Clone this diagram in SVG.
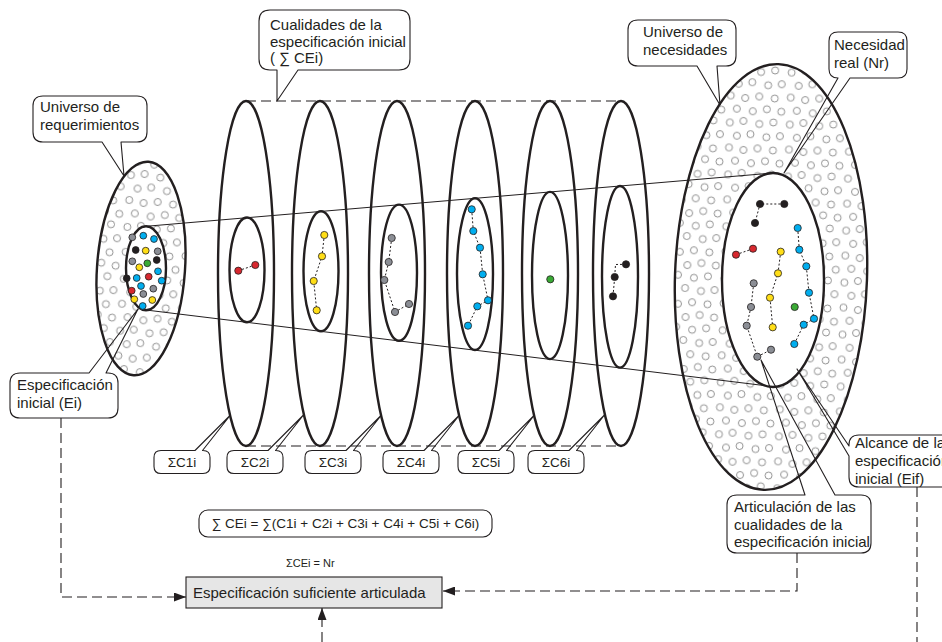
<svg xmlns="http://www.w3.org/2000/svg" width="942" height="642" viewBox="0 0 942 642">
<style>
  .rim{fill:none;stroke:#231f20;stroke-width:2.4}
  .rim-w{fill:#fff;stroke:#231f20;stroke-width:2.4}
  .cone{fill:none;stroke:#231f20;stroke-width:1}
  .guide{fill:none;stroke:#231f20;stroke-width:1.1;stroke-dasharray:10 5}
  .call{fill:none;stroke:#231f20;stroke-width:1.1;stroke-linejoin:round}
  .chain{fill:none;stroke:#231f20;stroke-width:1;stroke-dasharray:2 2}
  .dot{stroke:#231f20;stroke-width:0.8}
  .cy{fill:#00aeef}.ye{fill:#ffde17}.rd{fill:#d7282f}.gr{fill:#3aaa35}.bk{fill:#231f20}.gy{fill:#8b8e95}
  text{font-family:'Liberation Sans',Arial,sans-serif;font-size:15px;fill:#231f20}
  .tag{font-size:13.5px;text-anchor:middle}
  .small{font-size:13.5px}
  .tiny{font-size:11px}
</style>
<defs>
  <!-- scattered hollow circles filling the two universes -->
  <pattern id="holes" width="60" height="52" patternUnits="userSpaceOnUse">
    <rect width="60" height="52" fill="#fff"/>
    <g fill="#fff" stroke="#8c8c8c" stroke-width="0.95">
      <circle cx="11" cy="6" r="3.5"/><circle cx="27" cy="8" r="3.5"/><circle cx="41" cy="5.5" r="3.5"/><circle cx="55.5" cy="7.5" r="3.5"/>
      <circle cx="4.5" cy="20" r="3.5"/><circle cx="18" cy="18" r="3.5"/><circle cx="34" cy="20.5" r="3.5"/><circle cx="48" cy="18.5" r="3.5"/>
      <circle cx="12" cy="33" r="3.5"/><circle cx="25.5" cy="31" r="3.5"/><circle cx="41.5" cy="33.5" r="3.5"/><circle cx="55" cy="32" r="3.5"/>
      <circle cx="4.5" cy="45" r="3.5"/><circle cx="19" cy="47" r="3.5"/><circle cx="33" cy="45" r="3.5"/><circle cx="48.5" cy="46.5" r="3.5"/>
    </g>
  </pattern>
  <marker id="arrow" markerWidth="12" markerHeight="9" refX="12" refY="4.5" orient="auto" markerUnits="userSpaceOnUse">
    <path d="M0,0 L12,4.5 L0,9 Z" fill="#231f20"/>
  </marker>
  <!-- small sum label with its pointer -->
  <path id="tag" class="call" d="M7,0 H41 L76.5,-35.5 L48.5,0 H49 Q56,0 56,7 V16 Q56,23 49,23 H7 Q0,23 0,16 V7 Q0,0 7,0 Z"/>
</defs>

<rect width="942" height="642" fill="#fff"/>

<!-- Universo de requerimientos with the initial specification -->
<g id="universo-requerimientos">
  <ellipse cx="141" cy="268.5" rx="44" ry="107" transform="rotate(4 141 268.5)" fill="url(#holes)" stroke="#231f20" stroke-width="2.4"/>
</g>

<!-- Universo de necesidades -->
<g id="universo-necesidades">
  <ellipse cx="771" cy="277" rx="96" ry="213" transform="rotate(2 771 277)" fill="url(#holes)" stroke="#231f20" stroke-width="2.4"/>
</g>

<!-- cylinder of qualities: guide lines along the ellipse ends -->
<g id="cilindro">
  <line class="guide" x1="246" y1="101" x2="621" y2="101"/>
  <line class="guide" x1="246" y1="446" x2="621" y2="446"/>
</g>

<g id="connectors">
  <!-- projection cone from Ei to Nr -->
  <line class="cone" x1="146" y1="226.3" x2="773" y2="173"/>
  <line class="cone" x1="146" y1="310" x2="772" y2="386.5"/>
  <!-- flows into the final box -->
  <path class="guide" d="M61,418 V597 H186" marker-end="url(#arrow)"/>
  <path class="guide" d="M797,553 V591 H443" marker-end="url(#arrow)"/>
  <path class="guide" d="M322,642 V608" marker-end="url(#arrow)"/>
  <path class="guide" d="M917,487 V642"/>
</g>

<g id="especificacion-inicial">
  <ellipse class="rim-w" cx="146" cy="268.3" rx="20" ry="42"/>
  <g class="dot">
    <circle class="gy" cx="132.3" cy="237.3" r="3.4"/><circle class="cy" cx="143.3" cy="235.7" r="3.4"/><circle class="cy" cx="154" cy="239" r="3.4"/>
    <circle class="bk" cx="135.7" cy="250" r="3.4"/><circle class="ye" cx="145.7" cy="250.7" r="3.4"/><circle class="gy" cx="157.7" cy="251.3" r="3.4"/>
    <circle class="gy" cx="132.3" cy="261.3" r="3.4"/><circle class="ye" cx="139.3" cy="267.3" r="3.4"/><circle class="gr" cx="147.3" cy="263.3" r="3.4"/>
    <circle class="bk" cx="156.7" cy="260" r="3.4"/><circle class="bk" cx="126.7" cy="278.3" r="3.4"/><circle class="cy" cx="136.7" cy="278" r="3.4"/>
    <circle class="rd" cx="148.7" cy="276.7" r="3.4"/><circle class="cy" cx="158" cy="271.3" r="3.4"/><circle class="cy" cx="161.7" cy="280.7" r="3.4"/>
    <circle class="cy" cx="141" cy="286" r="3.4"/><circle class="gy" cx="153.3" cy="288.7" r="3.4"/><circle class="rd" cx="131.7" cy="290.7" r="3.4"/>
    <circle class="gy" cx="143.3" cy="294" r="3.4"/><circle class="ye" cx="134.3" cy="299.3" r="3.4"/><circle class="ye" cx="152.3" cy="300" r="3.4"/>
    <circle class="cy" cx="142.7" cy="306" r="3.4"/>
  </g>
</g>

<g id="cualidad-1">
  <ellipse class="rim" cx="246" cy="273.5" rx="28" ry="172.5"/>
  <ellipse class="rim" cx="247" cy="269.9" rx="17.5" ry="52.4"/>
  <polyline class="chain" points="238.3,270.7 255.3,265"/>
  <g class="dot"><circle class="rd" cx="238.3" cy="270.7" r="3.6"/><circle class="rd" cx="255.3" cy="265" r="3.6"/></g>
</g>
<g id="cualidad-2">
  <ellipse class="rim" cx="320" cy="273.5" rx="28" ry="172.5"/>
  <ellipse class="rim" cx="321" cy="271.2" rx="17.5" ry="60"/>
  <polyline class="chain" points="324.3,235 322,256.3 313.7,281 316.7,310.3"/>
  <g class="dot"><circle class="ye" cx="324.3" cy="235" r="3.6"/><circle class="ye" cx="322" cy="256.3" r="3.6"/><circle class="ye" cx="313.7" cy="281" r="3.6"/><circle class="ye" cx="316.7" cy="310.3" r="3.6"/></g>
</g>
<g id="cualidad-3">
  <ellipse class="rim" cx="397" cy="273.5" rx="28" ry="172.5"/>
  <ellipse class="rim" cx="399" cy="272.7" rx="18" ry="68.1"/>
  <polyline class="chain" points="391.7,238 388.7,262 384.3,280 395,312 409,304"/>
  <g class="dot"><circle class="gy" cx="391.7" cy="238" r="3.6"/><circle class="gy" cx="388.7" cy="262" r="3.6"/><circle class="gy" cx="384.3" cy="280" r="3.6"/><circle class="gy" cx="395" cy="312" r="3.6"/><circle class="gy" cx="409" cy="304" r="3.6"/></g>
</g>
<g id="cualidad-4">
  <ellipse class="rim" cx="475" cy="273.5" rx="28" ry="172.5"/>
  <ellipse class="rim" cx="475" cy="274.1" rx="18" ry="75.9"/>
  <polyline class="chain" points="471.7,209.3 473.3,231 480,247.7 482.7,274.3 488,300.3 477.3,306.3 468,325.7"/>
  <g class="dot"><circle class="cy" cx="471.7" cy="209.3" r="3.6"/><circle class="cy" cx="473.3" cy="231" r="3.6"/><circle class="cy" cx="480" cy="247.7" r="3.6"/><circle class="cy" cx="482.7" cy="274.3" r="3.6"/><circle class="cy" cx="488" cy="300.3" r="3.6"/><circle class="cy" cx="477.3" cy="306.3" r="3.6"/><circle class="cy" cx="468" cy="325.7" r="3.6"/></g>
</g>
<g id="cualidad-5">
  <ellipse class="rim" cx="550" cy="273.5" rx="28" ry="172.5"/>
  <ellipse class="rim" cx="550" cy="275.5" rx="18" ry="83.6"/>
  <g class="dot"><circle class="gr" cx="550.3" cy="279.3" r="3.6"/></g>
</g>
<g id="cualidad-6">
  <ellipse class="rim" cx="621" cy="273.5" rx="28" ry="172.5"/>
  <ellipse class="rim" cx="620" cy="276.8" rx="18" ry="90.8"/>
  <polyline class="chain" points="626,264.3 615.5,264.5 614.7,277 613,296.3"/>
  <g class="dot"><circle class="bk" cx="626" cy="264.3" r="3.6"/><circle class="bk" cx="614.7" cy="277" r="3.6"/><circle class="bk" cx="613" cy="296.3" r="3.6"/></g>
</g>

<g id="necesidad-real">
  <ellipse class="rim-w" cx="773" cy="280" rx="51" ry="107"/>
  <g class="chain">
    <polyline points="784.3,204 760,204 755,223"/>
    <polyline points="736,254.7 753,248.7"/>
    <polyline points="780.7,251.7 778,273.3 770,297.7 772.7,327.3"/>
    <polyline points="797.7,228 799.3,249.7 806.3,266.3 809,292.7 814,318.7 803.7,324.7 794.3,344"/>
    <polyline points="753.7,283.3 751,307 746.7,325.7 757.3,356.7 771,349.7"/>
  </g>
  <g class="dot">
    <circle class="bk" cx="760" cy="204" r="3.6"/><circle class="bk" cx="784.3" cy="204" r="3.6"/><circle class="bk" cx="755" cy="223" r="3.6"/>
    <circle class="rd" cx="736" cy="254.7" r="3.6"/><circle class="rd" cx="753" cy="248.7" r="3.6"/>
    <circle class="ye" cx="780.7" cy="251.7" r="3.6"/><circle class="ye" cx="778" cy="273.3" r="3.6"/><circle class="ye" cx="770" cy="297.7" r="3.6"/><circle class="ye" cx="772.7" cy="327.3" r="3.6"/>
    <circle class="cy" cx="797.7" cy="228" r="3.6"/><circle class="cy" cx="799.3" cy="249.7" r="3.6"/><circle class="cy" cx="806.3" cy="266.3" r="3.6"/><circle class="cy" cx="809" cy="292.7" r="3.6"/><circle class="cy" cx="814" cy="318.7" r="3.6"/><circle class="cy" cx="803.7" cy="324.7" r="3.6"/><circle class="cy" cx="794.3" cy="344" r="3.6"/>
    <circle class="gy" cx="753.7" cy="283.3" r="3.6"/><circle class="gy" cx="751" cy="307" r="3.6"/><circle class="gy" cx="746.7" cy="325.7" r="3.6"/><circle class="gy" cx="757.3" cy="356.7" r="3.6"/><circle class="gy" cx="771" cy="349.7" r="3.6"/>
    <circle class="gr" cx="794.7" cy="307" r="3.6"/>
  </g>
</g>

<!-- callouts -->
<g id="callout-requerimientos">
  <path class="call" d="M43,96 H137 Q147,96 147,106 V132 Q147,142 137,142 H121 L124,176 L102,142 H43 Q33,142 33,132 V106 Q33,96 43,96 Z"/>
  <text x="40" y="112">Universo de</text>
  <text x="40" y="130">requerimientos</text>
</g>
<g id="callout-cualidades">
  <path class="call" d="M270,10 H399 Q410,10 410,21 V59 Q410,70 399,70 H298 L277,101 L277,70 H270 Q259,70 259,59 V21 Q259,10 270,10 Z"/>
  <text x="270" y="30">Cualidades de la</text>
  <text x="270" y="46.5">especificación inicial</text>
  <text x="270" y="63">( ∑ CEi)</text>
</g>
<g id="callout-necesidades">
  <path class="call" d="M638,20 H726 Q736,20 736,30 V56 Q736,66 726,66 H717 L720,105 L697,66 H638 Q628,66 628,56 V30 Q628,20 638,20 Z"/>
  <text x="643" y="37">Universo de</text>
  <text x="643" y="55">necesidades</text>
</g>
<g id="callout-nr">
  <path class="call" d="M838,32 H898 Q907,32 907,41 V69 Q907,78 898,78 H850 L784,173 L838,78 Q829,78 829,69 V41 Q829,32 838,32 Z"/>
  <text x="834" y="50">Necesidad</text>
  <text x="834" y="68">real (Nr)</text>
</g>
<g id="callout-ei">
  <path class="call" d="M20,373 H89 L138,309 L106,373 H108 Q118,373 118,383 V408 Q118,418 108,418 H20 Q10,418 10,408 V383 Q10,373 20,373 Z"/>
  <text x="17" y="390">Especificación</text>
  <text x="17" y="408">inicial (Ei)</text>
</g>
<g id="callout-alcance">
  <path class="call" d="M859,435 H949 Q959,435 959,445 V477 Q959,487 949,487 H859 Q849,487 849,477 V456 L797,369 L849,446 V445 Q849,435 859,435 Z"/>
  <text x="855" y="448">Alcance de la</text>
  <text x="855" y="466">especificación</text>
  <text x="855" y="484">inicial (Eif)</text>
</g>
<g id="callout-articulacion">
  <path class="call" d="M737,495 H805 L761,360 L835,495 H861 Q871,495 871,505 V543 Q871,553 861,553 H737 Q727,553 727,543 V505 Q727,495 737,495 Z"/>
  <text x="734" y="512">Articulación de las</text>
  <text x="734" y="530">cualidades de la</text>
  <text x="734" y="547">especificación inicial</text>
</g>

<g id="label-c1"><use href="#tag" x="154" y="450.5"/><text class="tag" x="182" y="467">ΣC1i</text></g>
<g id="label-c2"><use href="#tag" x="227" y="450.5"/><text class="tag" x="255" y="467">ΣC2i</text></g>
<g id="label-c3"><use href="#tag" x="305" y="450.5"/><text class="tag" x="333" y="467">ΣC3i</text></g>
<g id="label-c4"><use href="#tag" x="383" y="450.5"/><text class="tag" x="411" y="467">ΣC4i</text></g>
<g id="label-c5"><use href="#tag" x="458" y="450.5"/><text class="tag" x="486" y="467">ΣC5i</text></g>
<g id="label-c6"><use href="#tag" x="528" y="450.5"/><text class="tag" x="556" y="467">ΣC6i</text></g>

<g id="formula">
  <rect x="199" y="510" width="293" height="27" rx="9" fill="none" stroke="#231f20" stroke-width="1.1"/>
  <text class="small" x="345.5" y="528" text-anchor="middle">∑ CEi = ∑(C1i + C2i + C3i + C4i + C5i + C6i)</text>
</g>

<g id="especificacion-suficiente">
  <text class="tiny" x="286" y="567">ΣCEi = Nr</text>
  <rect x="186" y="577" width="256" height="31" fill="#e6e6e6" stroke="#231f20" stroke-width="1.1"/>
  <text x="193" y="598">Especificación suficiente articulada</text>
</g>
</svg>
